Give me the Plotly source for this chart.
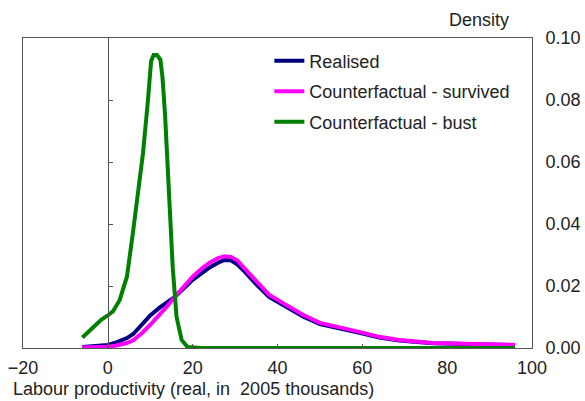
import plotly.graph_objects as go

# kernel density estimates
realised_x = [-6, -3, 0, 2, 4.5, 6, 8.2, 10, 12.2, 14, 15.8, 18, 20, 22, 24, 26, 27.5, 29, 30.5,
              32, 35, 38, 42, 46, 50, 54.6, 59.3, 64, 68.7, 76.5, 84.5, 96]
realised_y = [0.0003, 0.0005, 0.001, 0.0018, 0.0032, 0.0045, 0.008, 0.0105, 0.013, 0.0148, 0.0165,
              0.0193, 0.022, 0.024, 0.026, 0.0275, 0.0284, 0.0283, 0.027, 0.025, 0.0205, 0.0165,
              0.0133, 0.0102, 0.0077, 0.0064, 0.0049, 0.0034, 0.0024, 0.0015, 0.0012, 0.0009]

survived_x = [-6, -3, 0, 2, 4.5, 6, 8.2, 10, 12.2, 14, 15.8, 18, 20, 22, 24, 26, 27.5, 29, 30.5,
              32, 35, 38, 42, 46, 50, 54.6, 59.3, 64, 68.7, 76.5, 84.5, 96]
survived_y = [0.0002, 0.0002, 0.0004, 0.0008, 0.0016, 0.0025, 0.005, 0.0075, 0.0107, 0.0135, 0.0165,
              0.02, 0.023, 0.0255, 0.0275, 0.029, 0.0296, 0.0294, 0.0283, 0.026, 0.0214, 0.0172,
              0.0139, 0.0107, 0.0081, 0.0068, 0.0052, 0.0036, 0.0026, 0.0016, 0.0013, 0.001]

bust_x = [-6, -4.5, -3, -1.5, 0, 1.2, 2.8, 4.5, 5.9, 7, 8.3, 9.4, 10.2, 10.8, 11.6, 12.4, 12.9,
          13.5, 14.6, 15.3, 16.2, 17.4, 18.8, 22, 40, 60, 80, 96]
bust_y = [0.0034, 0.0052, 0.0072, 0.0092, 0.0105, 0.0118, 0.0155, 0.023, 0.037, 0.048, 0.063,
          0.079, 0.0925, 0.0945, 0.0945, 0.093, 0.087, 0.075, 0.048, 0.026, 0.01, 0.0026, 0.0003,
          0, 0, 0, 0, 0]

FONT = "Liberation Sans, Arial, sans-serif"

fig = go.Figure()

fig.add_trace(go.Scatter(x=realised_x, y=realised_y, mode='lines', name='Realised',
                         line=dict(color='#000080', width=4), legendgroup='a'))
fig.add_trace(go.Scatter(x=survived_x, y=survived_y, mode='lines', name='Counterfactual - survived',
                         line=dict(color='#ff00ff', width=4), legendgroup='b'))
fig.add_trace(go.Scatter(x=bust_x, y=bust_y, mode='lines', name='Counterfactual - bust',
                         line=dict(color='#008000', width=4), legendgroup='c'))

# vertical axis line at x = 0 with its ticks
fig.add_trace(go.Scatter(x=[None], y=[None], yaxis='y2', showlegend=False))

fig.update_layout(
    width=585, height=401,
    margin=dict(l=23, r=53, t=38, b=53),
    paper_bgcolor='white', plot_bgcolor='white',
    font=dict(family=FONT, size=18, color='#222'),
    xaxis=dict(range=[-20, 100], dtick=20, showgrid=False, zeroline=False, automargin=False,
               showline=True, linecolor='#555', linewidth=1, mirror=True,
               ticks='inside', ticklen=4, tickcolor='#555', ticklabelstandoff=3,
               ticklabeloverflow='allow'),
    yaxis=dict(range=[0, 0.1], dtick=0.02, tickformat='.2f', side='right', showgrid=False,
               zeroline=False, showline=True, linecolor='#555', linewidth=1, mirror=True,
               ticks='', ticklabelstandoff=9, automargin=False),
    yaxis2=dict(range=[0, 0.1], dtick=0.02, overlaying='y', anchor='free', position=1 / 6,
                side='left', showgrid=False, zeroline=False, showline=True, linecolor='#555',
                linewidth=1, ticks='inside', ticklen=4, tickcolor='#555', showticklabels=False,
                automargin=False),
    legend=dict(x=0.484, y=0.985, xanchor='left', yanchor='top', bgcolor='rgba(0,0,0,0)',
                traceorder='grouped', tracegroupgap=4, font=dict(size=18)),
    showlegend=True,
)

fig.add_annotation(text='Density', xref='paper', yref='paper', x=1.0, y=1.0, xanchor='right',
                   yanchor='bottom', xshift=-21, yshift=6, showarrow=False)
fig.add_annotation(text='Labour productivity (real, in  2005 thousands)', xref='paper', yref='paper',
                   x=0, y=0, xanchor='left', yanchor='top', xshift=-12, yshift=-29, showarrow=False)

# drop the browser's default page margin so the figure fills the window exactly
fig.write_html("out.html", config={'displayModeBar': False},
               post_script="document.body.style.margin = '0';")
